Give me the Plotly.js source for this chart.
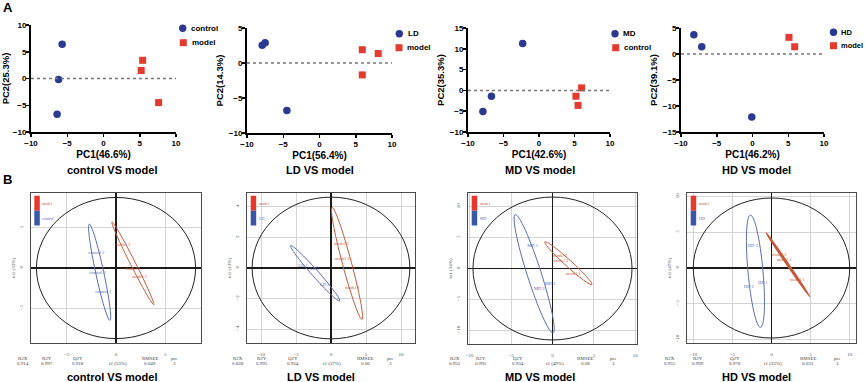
<!DOCTYPE html>
<html><head><meta charset="utf-8">
<script src="https://cdn.plot.ly/plotly-3.0.1.min.js"></script>
<style>html,body{margin:0;padding:0;background:#fff}#chart{width:865px;height:382px}</style>
</head><body><div id="chart"></div>
<script>
// ---------- Panel A : PCA score plots ----------
const pcaTitles   = ['control VS model','LD VS model','MD VS model','HD VS model'];
const pcaG1Names  = ['control','LD','MD','HD'];
const pcaG2Names  = ['model','model','control','model'];
const pcaXTitles  = ['PC1(46.6%)','PC1(56.4%)','PC1(42.6%)','PC1(46.2%)'];
const pcaYTitles  = ['PC2(25.3%)','PC2(14.3%)','PC2(35.3%)','PC2(39.1%)'];
const pcaYRanges  = [[-10,10],[-10,5],[-10,15],[-15,5]];
const pcaG1X = [[-5.7,-6.2,-6.4],[-7.5,-7.9,-4.5],[-2.3,-6.7,-7.9],[-8.2,-7.1,-0.1]];
const pcaG1Y = [[6.4,-0.2,-6.7],[2.9,2.55,-6.8],[11.3,-1.4,-5.1],[3.7,1.4,-12.1]];
const pcaG2X = [[5.4,5.2,7.6],[5.9,8.1,5.9],[6.0,5.2,5.5],[5.1,5.9]];
const pcaG2Y = [[3.4,1.5,-4.5],[1.9,1.35,-1.7],[0.6,-1.4,-3.6],[3.2,1.4]];

// ---------- Panel B : OPLS-DA score plots ----------
const oplsTitles   = ['control VS model','LD VS model','MD VS model','HD VS model'];
const oplsG1Names  = ['control','LD','MD','HD'];
const oplsYTitles  = ['to1 (32%)','to1 (13%)','to1 (34%)','to1 (47%)'];
const oplsT1       = ['t1 (53%)','t1 (37%)','t1 (49%)','t1 (33%)'];
const oplsXRanges  = [[-8.65,8.65],[-12,12],[-10.2,10.2],[-10.8,10.8]];
const oplsYRanges  = [[-9.3,9.3],[-4.9,4.9],[-12.2,12.2],[-10.5,10.5]];
const oplsXTicks   = [[-5,0,5],[-10,-5,0,5,10],[-10,-5,0,5,10],[-10,-5,0,5,10]];
const oplsYTicks   = [[-5,0,5],[-4,-2,0,2,4],[-10,-5,0,5,10],[-10,-5,0,5,10]];
// Hotelling T2 ellipse radii (t1, to1)
const hotRx = [8.1, 11.27, 9.6, 10.0];
const hotRy = [8.75, 4.63, 11.55, 9.8];
// sample scores (labels drawn at the score positions)
const g1Labels = [['control 2','control 3','control 1'],['LD 1','LD 3','LD 2'],['MD 1','MD 3','MD 2'],['HD 3','HD 2','HD 1']];
const g1T  = [[-2.0,-1.9,-1.3],[-4.0,-2.3,-0.9],[-2.4,-1.6,-0.3],[-2.4,-2.9,-1.1]];
const g1To = [[1.9,-0.6,-3.0],[0.15,-0.05,-1.1],[3.6,-3.3,-2.5],[3.1,-2.6,-2.1]];
const g2Labels = [['model 1','model 3','model 2'],['model 2','model 3','model 1'],['model 2','model 3','model 1'],['model 2','model 3','model 1']];
const g2T  = [[0.7,1.7,2.4],[1.5,1.6,3.05],[0.9,1.0,2.5],[1.0,1.6,3.3]];
const g2To = [[2.9,-0.1,-1.1],[1.6,0.6,-1.3],[2.1,1.3,-0.8],[1.8,1.1,-1.6]];
// group confidence ellipses: major-axis end points (t1,to1) and half-width
const g1EllA = [[-2.72,5.45],[-5.76,1.46],[-4.5,8.7],[-2.7,7.4]];
const g1EllB = [[-0.61,-6.5],[1.24,-2.15],[0.07,-10.4],[-1.4,-8.3]];
const g1EllW = [4,3.3,7,7.5];
const g2EllA = [[-0.41,5.7],[0.14,3.97],[-0.92,4.3],[-0.68,4.9]];
const g2EllB = [[3.85,-4.55],[4.43,-3.36],[4.75,-2.6],[4.9,-4.0]];
const g2EllW = [2.5,4.5,3.3,0.8];
// model summary
const sumHeads = ['R2X','R2Y','Q2Y','RMSEE','pre'];
const sumR2X  = ['0.914','0.828','0.952','0.955'];
const sumR2Y  = ['0.997','0.995','0.995','0.999'];
const sumQ2Y  = ['0.918','0.934','0.934','0.978'];
const sumRMSEE= ['0.049','0.06','0.08','0.033'];
const sumPre  = ['3','3','3','3'];

// ---------- layout helpers ----------
const W=865,H=382;
const X=p=>p/W, Y=p=>1-p/H;
const AF='Arial, "Liberation Sans", sans-serif';
const SF='"Times New Roman", "Liberation Serif", serif';
const NAVY='#2b3990', RED='#e53a2e';
const EBLUE='#5a6db0', ERED='#c55a3c';

const aDomX=[[31,176],[247,392],[468,610],[681,824]];
const aDomY=[[25,132],[28,133],[28,132],[28,132]];
const bDomX=[[31,201],[247,415],[468,637],[687,856]];
const bDomY=[[193,343],[193,343],[193,344],[193,343]];
const aTitleX=[111.7,320,540,756.7];
const bTitleX=[111.7,320.7,540,756.7];
const aLeg=[[182.7,28.3,189.3,183.3,42.7,190],[399.3,33.7,405.7,399,47.7,405],[615,33.7,621,615.7,47.7,622.3],[833.5,32.3,839,833.5,45.7,838.5]];
const bLegX=[34.3,250.7,471.7,690.7];
const sumPosX=[[23.3,46.7,78.3,118,150,174],[238.3,261.7,293.3,331.7,365,390],[455,481,518,555,585,613],[670,697.7,735,773.3,808,837.7]];

const data=[], shapes=[], annotations=[];
const layout={width:W,height:H,margin:{l:0,r:0,t:0,b:0},showlegend:false,
  paper_bgcolor:'#fff',plot_bgcolor:'rgba(0,0,0,0)',font:{family:AF,color:'#000'}};

for(let i=0;i<4;i++){
  const n=i+1, xa='x'+n, ya='y'+n;
  data.push({type:'scatter',mode:'markers',x:pcaG1X[i],y:pcaG1Y[i],xaxis:xa,yaxis:ya,name:pcaG1Names[i],
    marker:{symbol:'circle',size:7.5,color:NAVY},cliponaxis:false});
  data.push({type:'scatter',mode:'markers',x:pcaG2X[i],y:pcaG2Y[i],xaxis:xa,yaxis:ya,name:pcaG2Names[i],
    marker:{symbol:'square',size:7,color:RED},cliponaxis:false});
  const axBase={showgrid:false,zeroline:false,showline:true,linecolor:'#000',linewidth:2,
    ticks:'outside',ticklen:3,tickwidth:1.5,tickcolor:'#000',
    tickfont:{family:AF,size:8,weight:'bold',color:'#000'},dtick:5,fixedrange:true};
  layout['xaxis'+(n===1?'':n)]=Object.assign({},axBase,{domain:[X(aDomX[i][0]),X(aDomX[i][1])],anchor:ya,range:[-10,10],
    tick0:-10,ticklabelstandoff:-1,title:{text:pcaXTitles[i],font:{family:AF,size:10,weight:'bold'},standoff:4}});
  layout['yaxis'+(n===1?'':n)]=Object.assign({},axBase,{domain:[Y(aDomY[i][1]),Y(aDomY[i][0])],anchor:xa,range:pcaYRanges[i],
    tick0:pcaYRanges[i][0],ticklabelstandoff:-2,title:{text:pcaYTitles[i],font:{family:AF,size:9.5,weight:'bold'},standoff:3}});
  shapes.push({type:'line',xref:xa,yref:ya,x0:-10,x1:10,y0:0,y1:0,line:{color:'#777',width:1.5,dash:'dot'}});
  annotations.push({text:pcaTitles[i],xref:'paper',yref:'paper',x:X(aTitleX[i]),y:Y(170),xanchor:'center',yanchor:'middle',
    showarrow:false,font:{family:AF,size:11,weight:'bold'}});
  // legend
  const L=aLeg[i];
  const lfs = i===3 ? 7.5 : 8;
  shapes.push({type:'circle',xref:'paper',yref:'paper',xsizemode:'pixel',ysizemode:'pixel',xanchor:X(L[0]),yanchor:Y(L[1]),
    x0:-3.7,x1:3.7,y0:-3.7,y1:3.7,fillcolor:NAVY,line:{width:0}});
  shapes.push({type:'rect',xref:'paper',yref:'paper',xsizemode:'pixel',ysizemode:'pixel',xanchor:X(L[3]),yanchor:Y(L[4]),
    x0:-3.5,x1:3.5,y0:-3.5,y1:3.5,fillcolor:RED,line:{width:0}});
  annotations.push({text:pcaG1Names[i],xref:'paper',yref:'paper',x:X(L[2]),y:Y(L[1]),xanchor:'left',yanchor:'middle',
    showarrow:false,font:{family:AF,size:lfs,weight:'bold'}});
  annotations.push({text:pcaG2Names[i],xref:'paper',yref:'paper',x:X(L[5]),y:Y(L[4]),xanchor:'left',yanchor:'middle',
    showarrow:false,font:{family:AF,size:lfs,weight:'bold'}});
}

function ellPath(pA,pB,hw,sx,sy){
  const cx=(pA[0]+pB[0])/2, cy=(pA[1]+pB[1])/2;
  const ux=(pB[0]-pA[0])/2, uy=(pB[1]-pA[1])/2;
  const L=Math.hypot(ux*sx,uy*sy);
  const vx=(-uy*sy/L*hw)/sx, vy=(ux*sx/L*hw)/sy;
  const k=0.5523;
  const P=(a,b)=>(cx+a*ux+b*vx).toFixed(4)+','+(cy+a*uy+b*vy).toFixed(4);
  return 'M'+P(1,0)+' C'+P(1,k)+' '+P(k,1)+' '+P(0,1)+' C'+P(-k,1)+' '+P(-1,k)+' '+P(-1,0)+
    ' C'+P(-1,-k)+' '+P(-k,-1)+' '+P(0,-1)+' C'+P(k,-1)+' '+P(1,-k)+' '+P(1,0)+' Z';
}

for(let i=0;i<4;i++){
  const n=i+5, xa='x'+n, ya='y'+n;
  const xr=oplsXRanges[i], yr=oplsYRanges[i];
  const sx=(bDomX[i][1]-bDomX[i][0])/(xr[1]-xr[0]);
  const sy=(bDomY[i][1]-bDomY[i][0])/(yr[1]-yr[0]);
  data.push({type:'scatter',mode:'text',x:g1T[i],y:g1To[i],text:g1Labels[i],xaxis:xa,yaxis:ya,name:oplsG1Names[i],
    textfont:{family:SF,size:4.5,color:EBLUE},textposition:'middle center'});
  data.push({type:'scatter',mode:'text',x:g2T[i],y:g2To[i],text:g2Labels[i],xaxis:xa,yaxis:ya,name:'model',
    textfont:{family:SF,size:4.5,color:ERED},textposition:'middle center'});
  const axB={showgrid:true,gridcolor:'#d4d4d4',gridwidth:1,zeroline:true,zerolinecolor:'#1a1a1a',zerolinewidth:1.3,
    showline:true,mirror:true,linecolor:'#4a4a4a',linewidth:1,ticks:'',ticklabelstandoff:6,
    tickfont:{family:SF,size:5,color:'#555'},fixedrange:true};
  layout['xaxis'+n]=Object.assign({},axB,{domain:[X(bDomX[i][0]),X(bDomX[i][1])],anchor:ya,range:xr,tickvals:oplsXTicks[i]});
  layout['yaxis'+n]=Object.assign({},axB,{domain:[Y(bDomY[i][1]),Y(bDomY[i][0])],anchor:xa,range:yr,tickvals:oplsYTicks[i],
    tickangle:-90,ticklabelstandoff:5,title:{text:oplsYTitles[i],font:{family:SF,size:5,color:'#555'},standoff:3}});
  shapes.push({type:'circle',xref:xa,yref:ya,x0:-hotRx[i],x1:hotRx[i],y0:-hotRy[i],y1:hotRy[i],line:{color:'#222',width:1}});
  shapes.push({type:'path',xref:xa,yref:ya,path:ellPath(g1EllA[i],g1EllB[i],g1EllW[i],sx,sy),line:{color:EBLUE,width:1}});
  shapes.push({type:'path',xref:xa,yref:ya,path:ellPath(g2EllA[i],g2EllB[i],g2EllW[i],sx,sy),line:{color:ERED,width:i===3?1.6:1}});
  // legend bar
  const lx=bLegX[i];
  shapes.push({type:'rect',xref:'paper',yref:'paper',x0:X(lx),x1:X(lx+5.5),y0:Y(210.7),y1:Y(195.7),fillcolor:'#e8372c',line:{width:0}});
  shapes.push({type:'rect',xref:'paper',yref:'paper',x0:X(lx),x1:X(lx+5.5),y0:Y(225.5),y1:Y(210.7),fillcolor:'#3a57a7',line:{width:0}});
  annotations.push({text:'model',xref:'paper',yref:'paper',x:X(lx+6),y:Y(203),xanchor:'left',yanchor:'middle',showarrow:false,
    font:{family:SF,size:4,color:ERED}});
  annotations.push({text:oplsG1Names[i],xref:'paper',yref:'paper',x:X(lx+6),y:Y(218),xanchor:'left',yanchor:'middle',showarrow:false,
    font:{family:SF,size:4,color:EBLUE}});
  // summary
  const P=sumPosX[i];
  const heads=[[sumHeads[0],P[0]],[sumHeads[1],P[1]],[sumHeads[2],P[2]],[sumHeads[3],P[4]],[sumHeads[4],P[5]]];
  heads.forEach(h=>annotations.push({text:h[0],xref:'paper',yref:'paper',x:X(h[1]),y:Y(358.8),xanchor:'center',yanchor:'middle',
    showarrow:false,font:{family:SF,size:5,color:'#444'}}));
  const vals=[[sumR2X[i],P[0]],[sumR2Y[i],P[1]],[sumQ2Y[i],P[2]],[oplsT1[i],P[3]],[sumRMSEE[i],P[4]],[sumPre[i],P[5]]];
  vals.forEach(v=>annotations.push({text:v[0],xref:'paper',yref:'paper',x:X(v[1]),y:Y(363.8),xanchor:'center',yanchor:'middle',
    showarrow:false,font:{family:SF,size:5,color:'#444'}}));
  annotations.push({text:oplsTitles[i],xref:'paper',yref:'paper',x:X(bTitleX[i]),y:Y(376.5),xanchor:'center',yanchor:'middle',
    showarrow:false,font:{family:AF,size:11,weight:'bold'}});
}
annotations.push({text:'A',xref:'paper',yref:'paper',x:X(1),y:Y(7.5),xanchor:'left',yanchor:'middle',showarrow:false,
  font:{family:AF,size:13,weight:'bold'}});
annotations.push({text:'B',xref:'paper',yref:'paper',x:X(1),y:Y(180),xanchor:'left',yanchor:'middle',showarrow:false,
  font:{family:AF,size:13,weight:'bold'}});
layout.shapes=shapes; layout.annotations=annotations;
Plotly.newPlot('chart',data,layout,{displayModeBar:false,staticPlot:true});
</script></body></html>
